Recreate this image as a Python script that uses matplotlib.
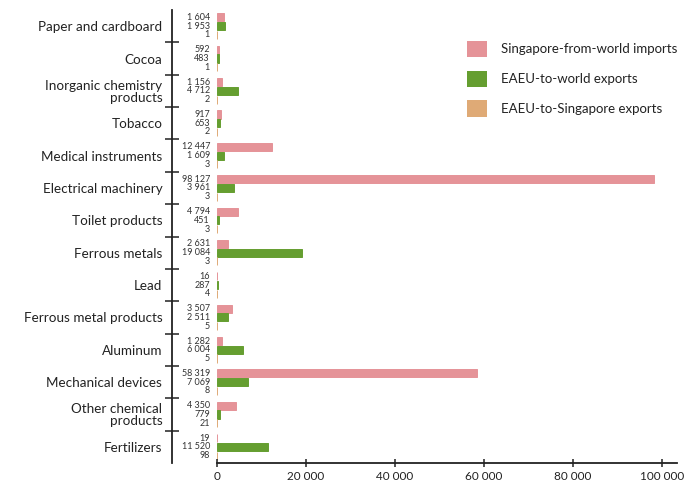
import matplotlib
matplotlib.use("Agg")
import matplotlib.pyplot as plt
from matplotlib.patches import Patch
import numpy as np

plt.rcParams['font.family'] = ['Lato', 'DejaVu Sans']

categories = ["Paper and cardboard", "Cocoa", "Inorganic chemistry\nproducts", "Tobacco",
              "Medical instruments", "Electrical machinery", "Toilet products", "Ferrous metals",
              "Lead", "Ferrous metal products", "Aluminum", "Mechanical devices",
              "Other chemical\nproducts", "Fertilizers"]
sg_imports = [1604, 592, 1156, 917, 12447, 98127, 4794, 2631, 16, 3507, 1282, 58319, 4350, 19]
eaeu_world = [1953, 483, 4712, 653, 1609, 3961, 451, 19084, 287, 2511, 6004, 7069, 779, 11520]
eaeu_sg = [1, 1, 2, 2, 3, 3, 3, 3, 4, 5, 5, 8, 21, 98]
series_names = ["Singapore-from-world imports", "EAEU-to-world exports", "EAEU-to-Singapore exports"]
xticks = [0, 20000, 40000, 60000, 80000, 100000]

colors = ["#E59398", "#659E30", "#DFAA76"]
W, H = 684, 486
fig = plt.figure(figsize=(W / 100, H / 100), dpi=100)
ax = fig.add_axes([172 / W, 1 - 463 / H, (677 - 172) / W, (463 - 10) / H])

n = len(categories)
y = np.arange(n)
offs = [-0.27, 0.0, 0.27]
bh = 0.25
series = [sg_imports, eaeu_world, eaeu_sg]
for s, off, c in zip(series, offs, colors):
    ax.barh(y + off, s, height=bh, color=c, edgecolor=c, linewidth=0.7)
    for yi, v in zip(y, s):
        ax.text(-1500, yi + off, f"{v:,}".replace(",", " "), ha="right", va="center",
                fontsize=6.5, color="#333333")

ax.set_xlim(-10030, 103300)
ax.set_ylim(n - 0.5, -0.5)

for sp in ["top", "right"]:
    ax.spines[sp].set_visible(False)
ax.spines["left"].set_color("#222222")
ax.spines["left"].set_linewidth(1.3)
ax.spines["bottom"].set_color("#222222")
ax.spines["bottom"].set_linewidth(1.3)
ax.spines["bottom"].set_bounds(0, 103300)

ax.set_xticks(xticks)
ax.set_xticklabels([f"{t:,}".replace(",", " ") for t in xticks], fontsize=8.5, color="#222222")
ax.tick_params(axis="x", direction="inout", length=6, width=1.1, color="#222222", pad=3)

ax.set_yticks(np.arange(n - 1) + 0.5)
ax.set_yticklabels([])
ax.tick_params(axis="y", which="major", direction="inout", length=10, width=1.1, color="#222222")
ax.set_yticks(y, minor=True)
ax.set_yticklabels(categories, minor=True, fontsize=9.7, color="#222222", linespacing=1.0)
ax.tick_params(axis="y", which="minor", length=0, pad=7)

handles = [Patch(facecolor=c, edgecolor="none") for c in colors]
fig.legend(handles, series_names, loc="upper left", bbox_to_anchor=(455 / W, 1 - 29 / H),
           frameon=False, fontsize=9.5, handlelength=1.55, handleheight=1.55,
           labelspacing=1.0, handletextpad=1.0, labelcolor="#222222")

fig.savefig("out.png", dpi=100)
